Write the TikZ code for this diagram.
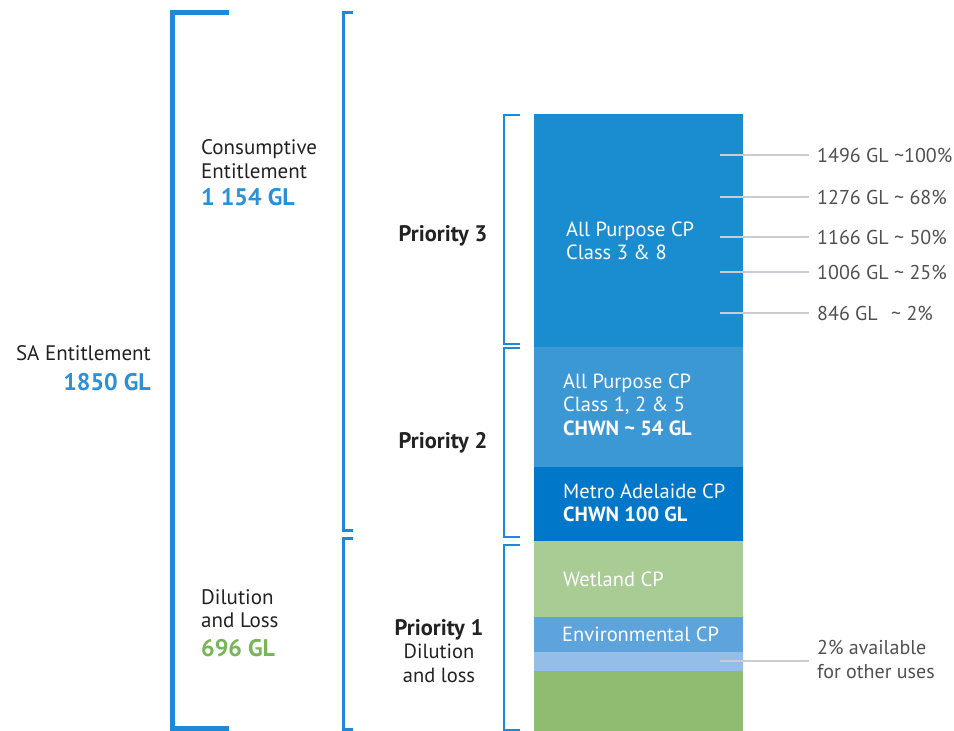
\documentclass[tikz,border=0pt]{standalone}
\usepackage{fontspec}
\setmainfont{PT Sans}
\usetikzlibrary{positioning}

\definecolor{bracketblue}{HTML}{1E88D9}
\definecolor{numblue}{HTML}{2A90D8}
\definecolor{numgreen}{HTML}{78B45A}
\definecolor{pthreeblue}{HTML}{1A8DD0}
\definecolor{ptwoblue}{HTML}{3C98D5}
\definecolor{metroblue}{HTML}{0077C8}
\definecolor{wetgreen}{HTML}{A9CC95}
\definecolor{envblue}{HTML}{5EA4DC}
\definecolor{bandblue}{HTML}{94BEE7}
\definecolor{basegreen}{HTML}{90BC72}
\definecolor{leadergray}{HTML}{C9CDD2}
\definecolor{labelgray}{HTML}{505050}
\definecolor{inkgray}{HTML}{222222}

\begin{document}
\begin{tikzpicture}[
  x=1pt, y=-1pt,
  font=\fontsize{20.5}{23.5}\selectfont,
  cell/.style={
    minimum width=209pt,
    inner sep=0pt,
    outer sep=0pt
  },
  celltext/.style={text=white, align=left, anchor=west, inner sep=0pt},
  sidetext/.style={text=inkgray, align=left, anchor=west, inner sep=0pt,
    font=\fontsize{21}{23.5}\selectfont},
  levellabel/.style={text=inkgray, align=center, inner sep=0pt},
  valuelabel/.style={text=labelgray, align=left, anchor=west, inner xsep=8pt, inner ysep=0pt,
    font=\fontsize{20}{23.5}\selectfont},
  leader/.style={draw=leadergray, line width=1.4pt},
  bigbracket/.style={draw=bracketblue, line width=5pt},
  midbracket/.style={draw=bracketblue, line width=3pt},
  smallbracket/.style={draw=bracketblue, line width=2pt}
]

\useasboundingbox (0,0) rectangle (954,731);

% stacked column
\node[cell, fill=pthreeblue, minimum height=233pt, anchor=north west] (pthree) at (534,114) {};
\node[cell, fill=ptwoblue, minimum height=120pt, below=0pt of pthree] (ptwo) {};
\node[cell, fill=metroblue, minimum height=74pt, below=0pt of ptwo] (metro) {};
\node[cell, fill=wetgreen, minimum height=76pt, below=0pt of metro] (wetland) {};
\node[cell, fill=envblue, minimum height=35pt, below=0pt of wetland] (env) {};
\node[cell, fill=bandblue, minimum height=19pt, below=0pt of env] (band) {};
\node[cell, fill=basegreen, minimum height=60pt, below=0pt of band] (base) {};

\node[celltext] (pthreetxt) at (566,241) {All Purpose CP\\Class 3 \& 8};
\node[celltext] (ptwotxt) at (563,404.5) {All Purpose CP\\Class 1, 2 \& 5\\\textbf{CHWN \textasciitilde\ 54 GL}};
\node[celltext] (metrotxt) at (563,503) {Metro Adelaide CP\\\textbf{CHWN 100 GL}};
\node[celltext] (wetlandtxt) at (563,579) {Wetland CP};
\node[celltext] (envtxt) at (562,634) {Environmental CP};

% brackets
\draw[bigbracket] (229,12.5) -| (172.5,728) -- (229,728);
\draw[midbracket] (353,12) -| (343.5,530) -- (353,530);
\draw[midbracket] (353,538.5) -| (343.5,729) -- (353,729);
\draw[smallbracket] (520,115) -| (504,344) -- (520,344);
\draw[smallbracket] (520,348) -| (504,537) -- (520,537);
\draw[smallbracket] (520,545) -| (504,729.5) -- (520,729.5);

% side labels
\node[sidetext] (consumptive) at (201,172.5) {Consumptive\\Entitlement\\[3.5pt]{\fontsize{24}{24}\selectfont\bfseries\color{numblue}1 154 GL}};
\node[sidetext, align=right, anchor=east] (sa) at (151,368) {SA Entitlement\\[7pt]{\fontsize{24}{24}\selectfont\bfseries\color{numblue}1850 GL}};
\node[sidetext] (dilution) at (201,623) {Dilution\\and Loss\\[5pt]{\fontsize{24}{24}\selectfont\bfseries\color{numgreen}696 GL}};

\node[levellabel, font=\fontsize{22.5}{23}\selectfont\bfseries] (prthree) at (443,236) {Priority 3};
\node[levellabel, font=\fontsize{22.5}{23}\selectfont\bfseries] (prtwo) at (443,443) {Priority 2};
\node[levellabel] (prone) at (439,651) {{\fontsize{22.5}{23}\selectfont\bfseries Priority 1}\\Dilution\\and loss};

% allocation levels
\coordinate (lvlA) at (720,155);
\coordinate (lvlB) at (720,197);
\coordinate (lvlC) at (720,237);
\coordinate (lvlD) at (720,272);
\coordinate (lvlE) at (720,313);
\coordinate (lvlF) at (720,661);

\node[valuelabel] (valA) at (809,155) {1496 GL \textasciitilde100\%};
\node[valuelabel] (valB) at (809,197) {1276 GL \textasciitilde\ 68\%};
\node[valuelabel] (valC) at (809,237) {1166 GL \textasciitilde\ 50\%};
\node[valuelabel] (valD) at (809,272) {1006 GL \textasciitilde\ 25\%};
\node[valuelabel] (valE) at (809,313) {846 GL\hspace{0.4em} \textasciitilde\ 2\%};
\node[valuelabel] (valF) at (809,659.5) {2\% available\\for other uses};

\draw[leader] (lvlA) -- (valA.west);
\draw[leader] (lvlB) -- (valB.west);
\draw[leader] (lvlC) -- (valC.west);
\draw[leader] (lvlD) -- (valD.west);
\draw[leader] (lvlE) -- (valE.west);
\draw[leader] (lvlF) -- (lvlF -| valF.west);

\end{tikzpicture}
\end{document}
